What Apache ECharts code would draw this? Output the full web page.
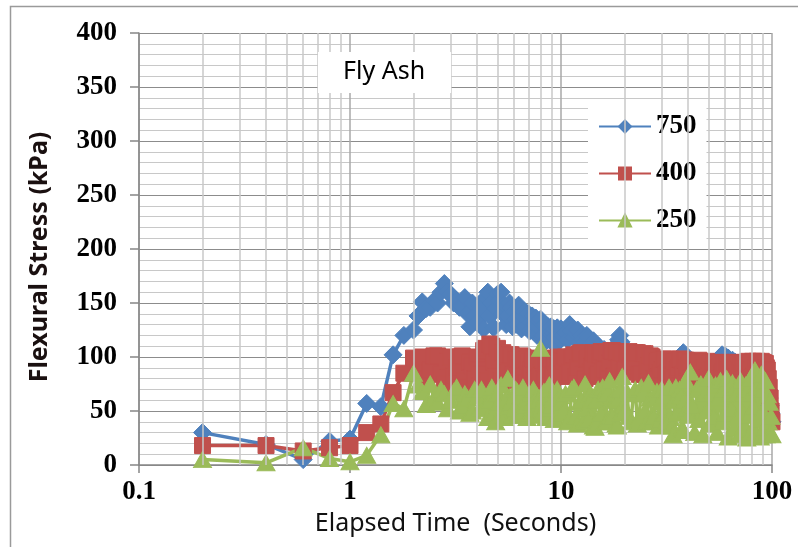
<!DOCTYPE html>
<html>
<head>
<meta charset="utf-8">
<script src="https://cdn.jsdelivr.net/npm/echarts@6/dist/echarts.min.js"></script>
<style>
  html, body { margin: 0; padding: 0; background: #ffffff; }
  #chart { width: 798px; height: 547px; }
</style>
</head>
<body>
<div id="chart"></div>
<script>
// Elapsed time of each reading (seconds)
var TIME = [
  0.2, 0.4, 0.6, 0.8, 1.0, 1.2, 1.4, 1.6, 1.8,
  2.0, 2.1, 2.2, 2.3, 2.4, 2.5, 2.6, 2.7, 2.8, 2.9,
  3.0, 3.1, 3.2, 3.3, 3.4, 3.5, 3.6, 3.7, 3.8, 3.9,
  4.0, 4.1, 4.2, 4.3, 4.4, 4.5, 4.6, 4.7, 4.8, 4.9,
  5.0, 5.1, 5.2, 5.3, 5.4, 5.5, 5.6, 5.7, 5.8, 5.9,
  6.0, 6.1, 6.2, 6.3, 6.4, 6.5, 6.6, 6.7, 6.8, 6.9,
  7.0, 7.1, 7.2, 7.3, 7.4, 7.5, 7.6, 7.7, 7.8, 7.9,
  8.0, 8.1, 8.2, 8.3, 8.4, 8.5, 8.6, 8.7, 8.8, 8.9,
  9.0, 9.1, 9.2, 9.3, 9.4, 9.5, 9.6, 9.7, 9.8, 9.9,
  10.0,
  10.25, 10.5, 10.75, 11, 11.25, 11.5, 11.75, 12, 12.25, 12.5,
  12.75, 13, 13.25, 13.5, 13.75, 14, 14.25, 14.5, 14.75, 15,
  15.25, 15.5, 15.75, 16, 16.25, 16.5, 16.75, 17, 17.25, 17.5,
  17.75, 18, 18.25, 18.5, 18.75, 19, 19.25, 19.5, 19.75, 20,
  20.5, 21, 21.5, 22, 22.5, 23, 23.5, 24, 24.5, 25,
  25.5, 26, 26.5, 27, 27.5, 28, 28.5, 29, 29.5, 30,
  30.5, 31, 31.5, 32, 32.5, 33, 33.5, 34, 34.5, 35,
  35.5, 36, 36.5, 37, 37.5, 38, 38.5, 39, 39.5, 40,
  41, 42, 43, 44, 45, 46, 47, 48, 49, 50,
  51, 52, 53, 54, 55, 56, 57, 58, 59, 60,
  61, 62, 63, 64, 65, 66, 67, 68, 69, 70,
  71, 72, 73, 74, 75, 76, 77, 78, 79, 80,
  81, 82, 83, 84, 85, 86, 87, 88, 89, 90,
  91, 92, 93, 94, 95, 96, 97, 98, 99, 100
];

// Flexural stress (kPa) for each mix
var S750 = [
  30, 19, 5, 22, 24, 57, 54, 102, 120,
  125, 138, 151, 145, 146, 152, 150, 160, 168, 160,
  158, 150, 152, 146, 147, 155, 140, 128, 150, 138,
  132, 148, 145, 126, 155, 160, 138, 150, 127, 145,
  158, 152, 160, 140, 148, 130, 138, 150, 146, 128,
  142, 135, 130, 148, 145, 126, 138, 142, 128, 136,
  140, 124, 132, 138, 124, 130, 136, 120, 128, 133,
  135, 118, 120, 130, 130, 115, 125, 128, 116, 122,
  128, 114, 122, 126, 118, 112, 127, 120, 120, 116,
  126,
  120, 122, 116, 130, 124, 118, 122, 125, 114, 120,
  116, 114, 120, 118, 110, 112, 115, 108, 104, 110,
  106, 104, 100, 107, 103, 102, 98, 104, 100, 100,
  104, 108, 110, 112, 116, 120, 114, 106, 100, 102,
  98, 100, 96, 99, 102, 97, 98, 100, 96, 98,
  94, 96, 98, 95, 94, 97, 95, 93, 92, 95,
  93, 96, 94, 92, 95, 96, 93, 94, 95, 93,
  96, 97, 98, 100, 101, 104, 96, 94, 92, 93,
  95, 93, 96, 91, 94, 92, 95, 90, 93, 91,
  94, 92, 95, 90, 93, 96, 98, 102, 98, 101,
  97, 99, 96, 94, 97, 93, 95, 92, 94, 91,
  93, 90, 92, 89, 91, 88, 90, 87, 89, 86,
  88, 85, 87, 84, 86, 83, 85, 82, 84, 81,
  83, 80, 82, 78, 75, 70, 62, 55, 48, 40
];

var S400 = [
  18, 18, 13, 16, 18, 30, 38, 67, 85,
  99, 92, 100, 80, 88, 101, 101, 84, 75, 96,
  100, 82, 90, 100, 101, 78, 72, 95, 92, 80,
  100, 88, 84, 106, 108, 78, 112, 110, 95, 82,
  108, 100, 78, 104, 100, 80, 86, 102, 102, 84,
  80, 100, 98, 78, 90, 101, 100, 82, 76, 98,
  96, 84, 88, 99, 98, 78, 80, 97, 95, 82,
  86, 98, 97, 80, 78, 96, 96, 84, 88, 99,
  98, 80, 82, 97, 95, 84, 90, 100, 97, 82,
  84,
  96, 100, 84, 86, 100, 102, 82, 90, 103, 104,
  84, 80, 98, 100, 86, 92, 104, 103, 82, 84,
  102, 105, 86, 88, 104, 104, 84, 94, 106, 106,
  82, 82, 104, 105, 88, 90, 104, 104, 86, 88,
  104, 105, 92, 95, 104, 104, 84, 84, 103, 103,
  88, 92, 101, 100, 80, 80, 96, 97, 86, 88,
  98, 98, 84, 86, 97, 98, 80, 78, 96, 96,
  88, 90, 98, 98, 82, 84, 97, 97, 90, 92,
  95, 80, 96, 88, 97, 85, 95, 90, 96, 82,
  94, 88, 95, 80, 94, 90, 95, 86, 94, 78,
  93, 88, 95, 84, 94, 90, 95, 82, 94, 88,
  93, 85, 94, 80, 95, 89, 96, 84, 95, 88,
  96, 82, 95, 90, 96, 85, 95, 90, 96, 86,
  95, 88, 94, 90, 88, 80, 72, 62, 50, 40
];

var S250 = [
  5, 2, 16, 6, 3, 9, 28, 57, 52,
  85, 74, 68, 56, 75, 62, 58, 70, 66, 52,
  60, 68, 72, 50, 55, 66, 62, 48, 50, 70,
  64, 52, 70, 58, 56, 44, 60, 72, 48, 40,
  66, 58, 74, 50, 44, 62, 80, 54, 58, 46,
  52, 70, 68, 48, 46, 64, 72, 50, 55, 44,
  62, 66, 48, 58, 70, 46, 52, 64, 60, 50,
  108, 56, 50, 68, 64, 44, 46, 70, 74, 52,
  55, 66, 62, 42, 44, 68, 70, 48, 50, 64,
  58,
  50, 66, 40, 44, 70, 72, 45, 38, 58, 60,
  40, 75, 52, 42, 66, 62, 36, 35, 60, 70,
  44, 48, 72, 66, 40, 40, 68, 78, 46, 45,
  64, 60, 38, 36, 62, 70, 48, 82, 55, 50,
  68, 45, 40, 66, 70, 38, 44, 72, 66, 50,
  40, 76, 62, 40, 45, 62, 68, 36, 42, 70,
  64, 48, 40, 68, 72, 44, 36, 28, 60, 72,
  48, 50, 70, 64, 34, 32, 60, 78, 52, 46,
  86, 55, 30, 70, 42, 75, 28, 66, 50, 80,
  38, 68, 45, 74, 30, 62, 78, 40, 70, 48,
  80, 26, 66, 52, 76, 34, 72, 44, 68, 28,
  78, 50, 66, 36, 74, 25, 70, 46, 80, 32,
  68, 54, 88, 30, 72, 42, 76, 26, 84, 50,
  70, 35, 78, 28, 65, 40, 58, 30, 45, 28
];

// Axis ticks and the log-scale minor grid positions
var X_TICKS = [0.1, 1, 10, 100];
var X_MINOR = [
  0.2, 0.3, 0.4, 0.5, 0.6, 0.7, 0.8, 0.9,
  2, 3, 4, 5, 6, 7, 8, 9,
  20, 30, 40, 50, 60, 70, 80, 90
];
var Y_TICKS = [0, 50, 100, 150, 200, 250, 300, 350, 400];

var SERIES_NAMES = ['750', '400', '250'];
var SERIES_VALUES = [S750, S400, S250];
var COLORS = ['#4F81BD', '#C0504D', '#9BBB59'];
var SYMBOLS = ['diamond', 'rect', 'triangle'];
var SYMBOL_SIZES = [18, 16, [18, 16]];

function pairs(values) {
  return TIME.map(function (t, i) { return [t, values[i]]; });
}

var chart = echarts.init(document.getElementById('chart'), null, { renderer: 'canvas' });

var series = [{
  // log-spaced minor grid lines on the time axis
  type: 'line',
  data: [],
  silent: true,
  markLine: {
    silent: true,
    symbol: ['none', 'none'],
    label: { show: false },
    animation: false,
    lineStyle: { color: '#C8C8C8', width: 1.5, type: 'solid' },
    data: X_MINOR.map(function (v) { return { xAxis: v }; })
  }
}];

SERIES_NAMES.forEach(function (name, k) {
  series.push({
    name: name,
    type: 'line',
    data: pairs(SERIES_VALUES[k]),
    clip: false,
    symbol: SYMBOLS[k],
    symbolSize: SYMBOL_SIZES[k],
    showAllSymbol: true,
    color: COLORS[k],
    lineStyle: { color: COLORS[k], width: 3.5 },
    itemStyle: { color: COLORS[k], borderColor: COLORS[k], borderWidth: 1 },
    emphasis: { disabled: true },
    animation: false
  });
});

var option = {
  animation: false,
  backgroundColor: '#ffffff',
  title: {
    text: 'Fly Ash',
    left: 318,
    top: 52,
    backgroundColor: '#ffffff',
    padding: [7, 26, 9, 25],
    textStyle: {
      fontFamily: 'Noto Sans',
      fontSize: 25,
      fontWeight: 'normal',
      color: '#000000'
    }
  },
  legend: {
    data: SERIES_NAMES,
    orient: 'vertical',
    left: 588,
    top: 106,
    backgroundColor: '#ffffff',
    padding: [7, 10, 6, 10],
    itemGap: 20,
    itemWidth: 52,
    itemHeight: 15,
    textStyle: {
      fontFamily: 'Liberation Serif',
      fontWeight: 'bold',
      fontSize: 27,
      color: '#000000'
    },
    selectedMode: false
  },
  graphic: [{
    type: 'rect',
    left: 8,
    top: 4,
    shape: { width: 800, height: 560 },
    style: { fill: 'none', stroke: '#9a9a9a', lineWidth: 1.5 },
    silent: true,
    z: 100
  }, {
    type: 'text',
    x: 40,
    y: 257,
    rotation: Math.PI / 2,
    silent: true,
    style: {
      text: 'Flexural Stress (kPa)',
      fontFamily: 'Noto Sans',
      fontSize: 25,
      fontWeight: 'bold',
      fill: '#1a1010',
      align: 'center',
      verticalAlign: 'middle'
    }
  }],
  grid: {
    left: 139,
    top: 33,
    width: 633,
    height: 432,
    containLabel: false
  },
  xAxis: {
    type: 'log',
    logBase: 10,
    min: X_TICKS[0],
    max: X_TICKS[X_TICKS.length - 1],
    name: 'Elapsed Time  (Seconds)',
    nameLocation: 'middle',
    nameGap: 42,
    nameTextStyle: {
      fontFamily: 'Noto Sans',
      fontSize: 25,
      color: '#111111'
    },
    axisLine: { show: true, onZero: false, lineStyle: { color: '#868686', width: 1.5 } },
    axisTick: { show: true, inside: false, length: 8, lineStyle: { color: '#868686', width: 1.5 } },
    axisLabel: {
      margin: 14,
      fontFamily: 'Liberation Serif',
      fontWeight: 'bold',
      fontSize: 27,
      color: '#000000',
      formatter: function (v) { return String(v); }
    },
    splitLine: { show: true, lineStyle: { color: '#A8A8A8', width: 1.5 } },
    minorTick: { show: false },
    minorSplitLine: { show: false }
  },
  yAxis: {
    type: 'value',
    min: Y_TICKS[0],
    max: Y_TICKS[Y_TICKS.length - 1],
    interval: 50,
    axisLine: { show: true, lineStyle: { color: '#868686', width: 1.5 } },
    axisTick: { show: true, inside: false, length: 9, lineStyle: { color: '#868686', width: 1.5 } },
    axisLabel: {
      margin: 22,
      fontFamily: 'Liberation Serif',
      fontWeight: 'bold',
      fontSize: 27,
      color: '#000000'
    },
    splitLine: { show: true, lineStyle: { color: '#8C8C8C', width: 1.2 } },
    minorTick: { show: false, splitNumber: 5 },
    minorSplitLine: { show: true, lineStyle: { color: '#C8C8C8', width: 1.2 } }
  },
  series: series
};

chart.setOption(option);
</script>
</body>
</html>
